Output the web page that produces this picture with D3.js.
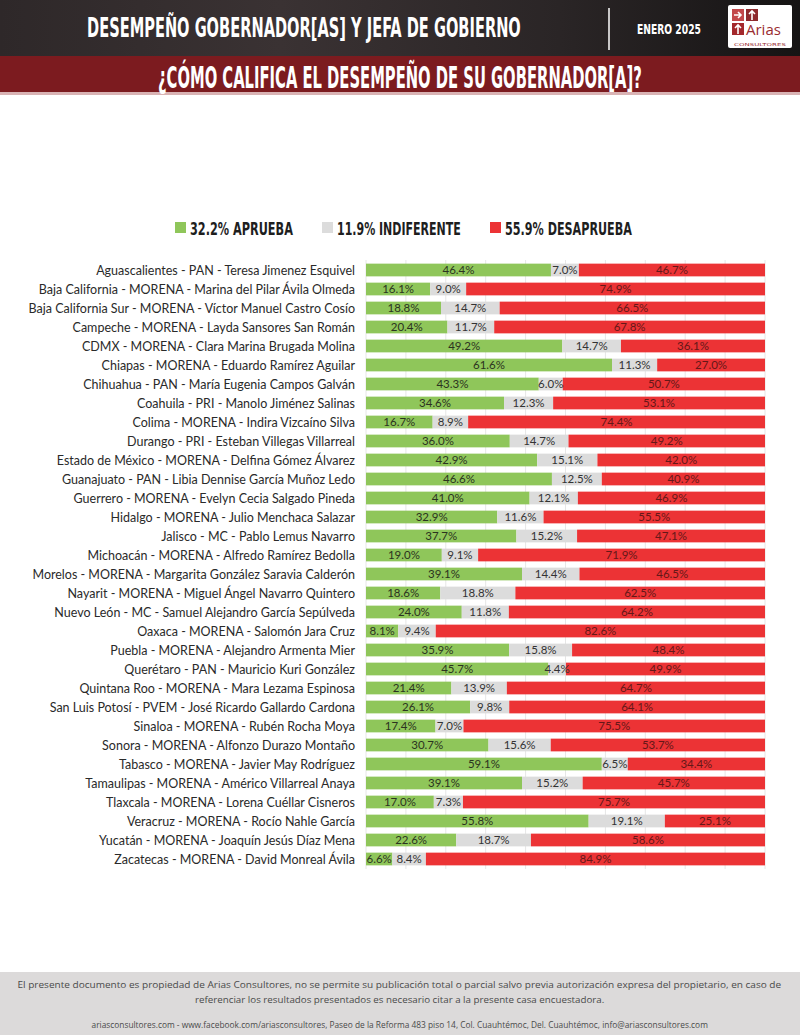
<!DOCTYPE html>
<html>
<head>
<meta charset="utf-8">
<script src="https://cdn.jsdelivr.net/npm/d3@7"></script>
<style>
  body { margin: 0; background: #fff; }
  svg { display: block; }
</style>
</head>
<body>
<div id="chart"></div>
<script>
// categories, top to bottom
const categories = [
  'Aguascalientes - PAN - Teresa Jimenez Esquivel',
  'Baja California - MORENA - Marina del Pilar Ávila Olmeda',
  'Baja California Sur - MORENA - Víctor Manuel Castro Cosío',
  'Campeche - MORENA - Layda Sansores San Román',
  'CDMX - MORENA - Clara Marina Brugada Molina',
  'Chiapas - MORENA - Eduardo Ramírez Aguilar',
  'Chihuahua - PAN - María Eugenia Campos Galván',
  'Coahuila - PRI - Manolo Jiménez Salinas',
  'Colima - MORENA - Indira Vizcaíno Silva',
  'Durango - PRI - Esteban Villegas Villarreal',
  'Estado de México - MORENA - Delfina Gómez Álvarez',
  'Guanajuato - PAN - Libia Dennise García Muñoz Ledo',
  'Guerrero - MORENA - Evelyn Cecia Salgado Pineda',
  'Hidalgo - MORENA - Julio Menchaca Salazar',
  'Jalisco - MC - Pablo Lemus Navarro',
  'Michoacán - MORENA - Alfredo Ramírez Bedolla',
  'Morelos - MORENA - Margarita González Saravia Calderón',
  'Nayarit - MORENA - Miguel Ángel Navarro Quintero',
  'Nuevo León - MC - Samuel Alejandro García Sepúlveda',
  'Oaxaca - MORENA - Salomón Jara Cruz',
  'Puebla - MORENA - Alejandro Armenta Mier',
  'Querétaro - PAN - Mauricio Kuri González',
  'Quintana Roo - MORENA - Mara Lezama Espinosa',
  'San Luis Potosí - PVEM - José Ricardo Gallardo Cardona',
  'Sinaloa - MORENA - Rubén Rocha Moya',
  'Sonora - MORENA - Alfonzo Durazo Montaño',
  'Tabasco - MORENA - Javier May Rodríguez',
  'Tamaulipas - MORENA - Américo Villarreal Anaya',
  'Tlaxcala - MORENA - Lorena Cuéllar Cisneros',
  'Veracruz - MORENA - Rocío Nahle García',
  'Yucatán - MORENA - Joaquín Jesús Díaz Mena',
  'Zacatecas - MORENA - David Monreal Ávila'
];

const aprueba = [46.4, 16.1, 18.8, 20.4, 49.2, 61.6, 43.3, 34.6, 16.7, 36.0, 42.9, 46.6, 41.0, 32.9, 37.7, 19.0,
  39.1, 18.6, 24.0, 8.1, 35.9, 45.7, 21.4, 26.1, 17.4, 30.7, 59.1, 39.1, 17.0, 55.8, 22.6, 6.6];
const indiferente = [7.0, 9.0, 14.7, 11.7, 14.7, 11.3, 6.0, 12.3, 8.9, 14.7, 15.1, 12.5, 12.1, 11.6, 15.2, 9.1,
  14.4, 18.8, 11.8, 9.4, 15.8, 4.4, 13.9, 9.8, 7.0, 15.6, 6.5, 15.2, 7.3, 19.1, 18.7, 8.4];
const desaprueba = [46.7, 74.9, 66.5, 67.8, 36.1, 27.0, 50.7, 53.1, 74.4, 49.2, 42.0, 40.9, 46.9, 55.5, 47.1, 71.9,
  46.5, 62.5, 64.2, 82.6, 48.4, 49.9, 64.7, 64.1, 75.5, 53.7, 34.4, 45.7, 75.7, 25.1, 58.6, 84.9];

const seriesKeys = ['APRUEBA', 'INDIFERENTE', 'DESAPRUEBA'];
const totals = [32.2, 11.9, 55.9];
const xTicks = [0, 0.1, 0.2, 0.3, 0.4, 0.5, 0.6, 0.7, 0.8, 0.9, 1];

const colors = { APRUEBA: '#8fc65a', INDIFERENTE: '#dcdcdc', DESAPRUEBA: '#ec3335' };
const textColors = { APRUEBA: '#2b3320', INDIFERENTE: '#333333', DESAPRUEBA: '#651818' };

const W = 800, H = 1035;
const svg = d3.select('#chart').append('svg').attr('width', W).attr('height', H);

// squeeze a text horizontally so that it fills `width` starting at x (or centred on x)
function fitText(sel, x, y, width, anchor) {
  const w = sel.node().getComputedTextLength();
  const s = width / w;
  const left = anchor === 'middle' ? x - width / 2 : x;
  sel.attr('x', 0).attr('y', 0).attr('text-anchor', 'start')
    .attr('transform', `translate(${left},${y}) scale(${s},1)`);
  return sel;
}

// ---- header
const defs = svg.append('defs');
const hg = defs.append('linearGradient').attr('id', 'hdr').attr('x1', 0).attr('x2', 1);
hg.append('stop').attr('offset', 0).attr('stop-color', '#2e2829');
hg.append('stop').attr('offset', 0.35).attr('stop-color', '#3a3233');
hg.append('stop').attr('offset', 0.7).attr('stop-color', '#2a2526');
hg.append('stop').attr('offset', 1).attr('stop-color', '#161414');

svg.append('rect').attr('x', 0).attr('y', 0).attr('width', W).attr('height', 56).attr('fill', 'url(#hdr)');
svg.append('rect').attr('x', 0).attr('y', 56).attr('width', W).attr('height', 36).attr('fill', '#7c1b1f');
svg.append('rect').attr('x', 0).attr('y', 92).attr('width', W).attr('height', 3).attr('fill', '#d9b3b4');

const condensed = "'Liberation Sans Narrow', 'DejaVu Sans Condensed', sans-serif";

fitText(svg.append('text')
  .style('font-family', condensed).style('font-weight', 'bold').style('font-size', '26px')
  .attr('fill', '#fff')
  .text('DESEMPEÑO GOBERNADOR[AS] Y JEFA DE GOBIERNO'), 87, 37, 434);

svg.append('line').attr('x1', 609).attr('x2', 609).attr('y1', 8).attr('y2', 50)
  .attr('stroke', '#fff').attr('stroke-width', 1.5);

fitText(svg.append('text')
  .style('font-family', condensed).style('font-weight', 'bold').style('font-size', '14px')
  .attr('fill', '#fff')
  .text('ENERO 2025'), 637, 34, 64);

// logo
const logo = svg.append('g').attr('transform', 'translate(728,5)');
logo.append('rect').attr('width', 64).attr('height', 43).attr('rx', 2).attr('fill', '#fff');
logo.append('rect').attr('x', 4).attr('y', 4).attr('width', 12).attr('height', 12).attr('fill', '#c2484b');
logo.append('rect').attr('x', 18).attr('y', 4).attr('width', 12).attr('height', 12).attr('fill', '#8e2a2d');
logo.append('rect').attr('x', 4).attr('y', 18).attr('width', 12).attr('height', 12).attr('fill', '#a3282c');
logo.append('path').attr('d', 'M6,10 h6 M10,7 l3,3 l-3,3').attr('stroke', '#fff').attr('stroke-width', 1.6).attr('fill', 'none');
logo.append('path').attr('d', 'M24,15 v-8 M21,9 l3,-3 l3,3').attr('stroke', '#fff').attr('stroke-width', 1.6).attr('fill', 'none');
logo.append('path').attr('d', 'M10,29 v-8 M7,23 l3,-3 l3,3').attr('stroke', '#fff').attr('stroke-width', 1.6).attr('fill', 'none');
logo.append('text').attr('x', 18).attr('y', 30)
  .style('font-family', "'Open Sans', sans-serif").style('font-size', '15px')
  .attr('fill', '#9a2c30').text('Arias');
fitText(logo.append('text')
  .style('font-family', "'DejaVu Sans', sans-serif").style('font-size', '4px')
  .attr('fill', '#9a2c30').text('CONSULTORES'), 32, 40.5, 52, 'middle');

fitText(svg.append('text')
  .style('font-family', condensed).style('font-weight', 'bold').style('font-size', '30px')
  .attr('fill', '#fff')
  .text('¿CÓMO CALIFICA EL DESEMPEÑO DE SU GOBERNADOR[A]?'), 158, 88, 484);

// ---- legend
const legendX = [175, 322, 490];
const legendW = [103, 124, 127];
const legend = svg.append('g');
seriesKeys.forEach((k, i) => {
  legend.append('rect').attr('x', legendX[i]).attr('y', 222).attr('width', 11).attr('height', 11)
    .attr('fill', colors[k]);
  fitText(legend.append('text')
    .style('font-family', condensed).style('font-weight', 'bold').style('font-size', '18px')
    .attr('fill', '#1e1e1e')
    .text(totals[i].toFixed(1) + '% ' + k), legendX[i] + 15, 235, legendW[i]);
});

// ---- chart
const rows = categories.map((c, i) => ({
  name: c, APRUEBA: aprueba[i], INDIFERENTE: indiferente[i], DESAPRUEBA: desaprueba[i]
}));

const x = d3.scaleLinear().domain([0, 1]).range([366, 765]);
const y = d3.scaleBand().domain(categories).range([260.5, 868.5]).paddingInner(0.33).paddingOuter(0.165);

const stack = d3.stack().keys(seriesKeys).offset(d3.stackOffsetExpand);
const series = stack(rows);

// grid
svg.append('g')
  .selectAll('line')
  .data(xTicks)
  .join('line')
  .attr('x1', d => x(d)).attr('x2', d => x(d))
  .attr('y1', 260).attr('y2', 869)
  .attr('stroke', '#e6e6e6').attr('stroke-width', 1);

const labelFont = "Lato, 'Open Sans', sans-serif";

svg.append('g')
  .selectAll('text')
  .data(categories)
  .join('text')
  .attr('x', 355)
  .attr('y', d => y(d) + y.bandwidth() / 2)
  .attr('dy', '0.36em')
  .attr('text-anchor', 'end')
  .style('font-family', labelFont).style('font-size', '12.5px')
  .attr('fill', '#2a2a2a')
  .text(d => d);

const groups = svg.append('g')
  .selectAll('g')
  .data(series)
  .join('g')
  .attr('fill', d => colors[d.key]);

groups.selectAll('rect')
  .data(d => d)
  .join('rect')
  .attr('x', d => x(d[0]))
  .attr('y', d => y(d.data.name))
  .attr('width', d => x(d[1]) - x(d[0]))
  .attr('height', y.bandwidth());

const valueLabels = svg.append('g');
series.forEach(s => {
  valueLabels.selectAll(null)
    .data(s)
    .join('text')
    .attr('x', d => (x(d[0]) + x(d[1])) / 2)
    .attr('y', d => y(d.data.name) + y.bandwidth() / 2)
    .attr('dy', '0.36em')
    .attr('text-anchor', 'middle')
    .style('font-family', labelFont).style('font-size', '11.5px')
    .attr('fill', textColors[s.key])
    .text(d => d.data[s.key].toFixed(1) + '%');
});

// ---- footer
svg.append('rect').attr('x', 0).attr('y', 972).attr('width', W).attr('height', H - 972).attr('fill', '#dcdada');
const footLines = [
  { t: 'El presente documento es propiedad de Arias Consultores, no se permite su publicación total o parcial salvo previa autorización expresa del propietario, en caso de', y: 988, w: 765 },
  { t: 'referenciar los resultados presentados es necesario citar a la presente casa encuestadora.', y: 1003, w: 410 },
  { t: 'ariasconsultores.com - www.facebook.com/ariasconsultores, Paseo de la Reforma 483 piso 14, Col. Cuauhtémoc, Del. Cuauhtémoc, info@ariasconsultores.com', y: 1028, w: 617 }
];
const foot = svg.append('g');
footLines.forEach(d => {
  fitText(foot.append('text')
    .style('font-family', "'Open Sans', sans-serif").style('font-size', '9.5px')
    .attr('fill', '#4a4a4a')
    .text(d.t), 400, d.y, d.w, 'middle');
});
</script>
</body>
</html>
